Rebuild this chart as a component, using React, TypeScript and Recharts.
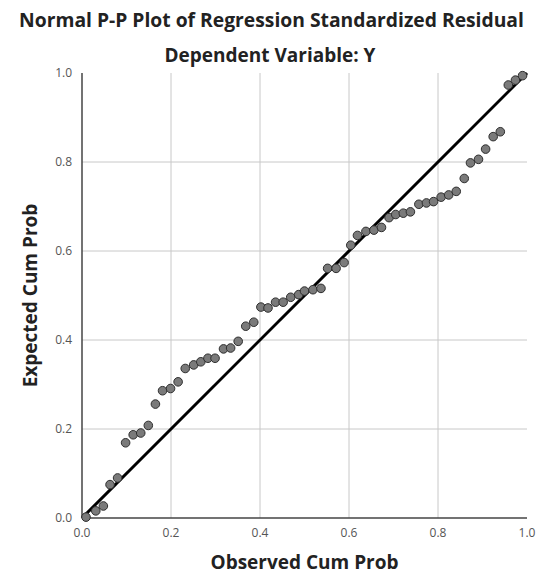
import {
  ScatterChart,
  Scatter,
  XAxis,
  YAxis,
  ReferenceLine,
  Label,
} from 'recharts';

const observed = [
  0.009, 0.031, 0.048, 0.063, 0.08, 0.098, 0.115, 0.132, 0.149, 0.165,
  0.181, 0.199, 0.216, 0.232, 0.251, 0.267, 0.283, 0.299, 0.318, 0.334,
  0.351, 0.368, 0.386, 0.402, 0.418, 0.435, 0.452, 0.469, 0.487, 0.5,
  0.519, 0.537, 0.552, 0.571, 0.589, 0.604, 0.619, 0.638, 0.656, 0.673,
  0.69, 0.705, 0.722, 0.738, 0.757, 0.774, 0.79, 0.807, 0.824, 0.841,
  0.859, 0.873, 0.891, 0.907, 0.924, 0.94, 0.958, 0.974, 0.99,
];

const expected = [
  0.002, 0.016, 0.027, 0.075, 0.09, 0.169, 0.187, 0.191, 0.208, 0.256,
  0.286, 0.291, 0.306, 0.336, 0.344, 0.351, 0.359, 0.359, 0.38, 0.382,
  0.397, 0.431, 0.44, 0.474, 0.472, 0.485, 0.485, 0.496, 0.502, 0.51,
  0.513, 0.516, 0.561, 0.561, 0.574, 0.613, 0.635, 0.644, 0.647, 0.653,
  0.675, 0.682, 0.685, 0.688, 0.705, 0.708, 0.711, 0.721, 0.726, 0.734,
  0.763, 0.798, 0.806, 0.829, 0.857, 0.868, 0.973, 0.984, 0.994,
];

const ticks = [0, 0.2, 0.4, 0.6, 0.8, 1.0];
const gridTicks = [0.2, 0.4, 0.6, 0.8];

const points = observed.map((x, i) => ({ x, y: expected[i] }));

const FONT = '"Open Sans", "DejaVu Sans", sans-serif';

const Dot = (props: any) => (
  <circle cx={props.cx} cy={props.cy} r={4.3} fill="#7a7a7a" stroke="#2e2e2e" strokeWidth={1} />
);

export default function App() {
  return (
    <div
      style={{
        position: 'absolute',
        left: 0,
        top: 0,
        width: 541,
        height: 576,
        background: '#fff',
        fontFamily: FONT,
      }}
    >
      <div
        style={{
          position: 'absolute',
          top: 7,
          left: 0,
          width: 543,
          textAlign: 'center',
          fontSize: 19.3,
          fontWeight: 700,
          color: '#222',
          whiteSpace: 'nowrap',
          lineHeight: '26px',
        }}
      >
        Normal P-P Plot of Regression Standardized Residual
      </div>
      <div
        style={{
          position: 'absolute',
          top: 42,
          left: 0,
          width: 540,
          textAlign: 'center',
          fontSize: 19,
          fontWeight: 700,
          color: '#222',
          lineHeight: '26px',
        }}
      >
        Dependent Variable: Y
      </div>
      <ScatterChart
        width={541}
        height={576}
        margin={{ top: 73, right: 14, bottom: 0, left: 0 }}
      >
        {gridTicks.map((t) => (
          <ReferenceLine key={'gx' + t} x={t} stroke="#c8c8c8" strokeWidth={1} />
        ))}
        {gridTicks.map((t) => (
          <ReferenceLine key={'gy' + t} y={t} stroke="#c8c8c8" strokeWidth={1} />
        ))}
        <XAxis
          type="number"
          dataKey="x"
          domain={[0, 1]}
          ticks={ticks}
          tickFormatter={(v: number) => v.toFixed(1)}
          tickLine={false}
          axisLine={{ stroke: '#444', strokeWidth: 1.5 }}
          tick={{ fill: '#555', fontSize: 12, fontFamily: FONT }}
          tickMargin={4}
          height={58}
        >
          <Label
            value="Observed Cum Prob"
            position="insideBottom"
            offset={7}
            style={{ fontSize: 19, fontWeight: 700, fill: '#222', fontFamily: FONT }}
          />
        </XAxis>
        <YAxis
          type="number"
          dataKey="y"
          domain={[0, 1]}
          ticks={ticks}
          tickFormatter={(v: number) => v.toFixed(1)}
          tickLine={false}
          axisLine={{ stroke: '#444', strokeWidth: 1.5 }}
          tick={{ fill: '#555', fontSize: 12, fontFamily: FONT }}
          tickMargin={4}
          width={82}
        >
          <Label
            value="Expected Cum Prob"
            angle={-90}
            position="insideLeft"
            offset={30}
            style={{
              fontSize: 19,
              fontWeight: 700,
              fill: '#222',
              fontFamily: FONT,
              textAnchor: 'middle',
            }}
          />
        </YAxis>
        <ReferenceLine
          segment={[
            { x: 0, y: 0 },
            { x: 1, y: 1 },
          ]}
          stroke="#000"
          strokeWidth={3}
        />
        <Scatter data={points} shape={Dot} isAnimationActive={false} />
      </ScatterChart>
    </div>
  );
}
